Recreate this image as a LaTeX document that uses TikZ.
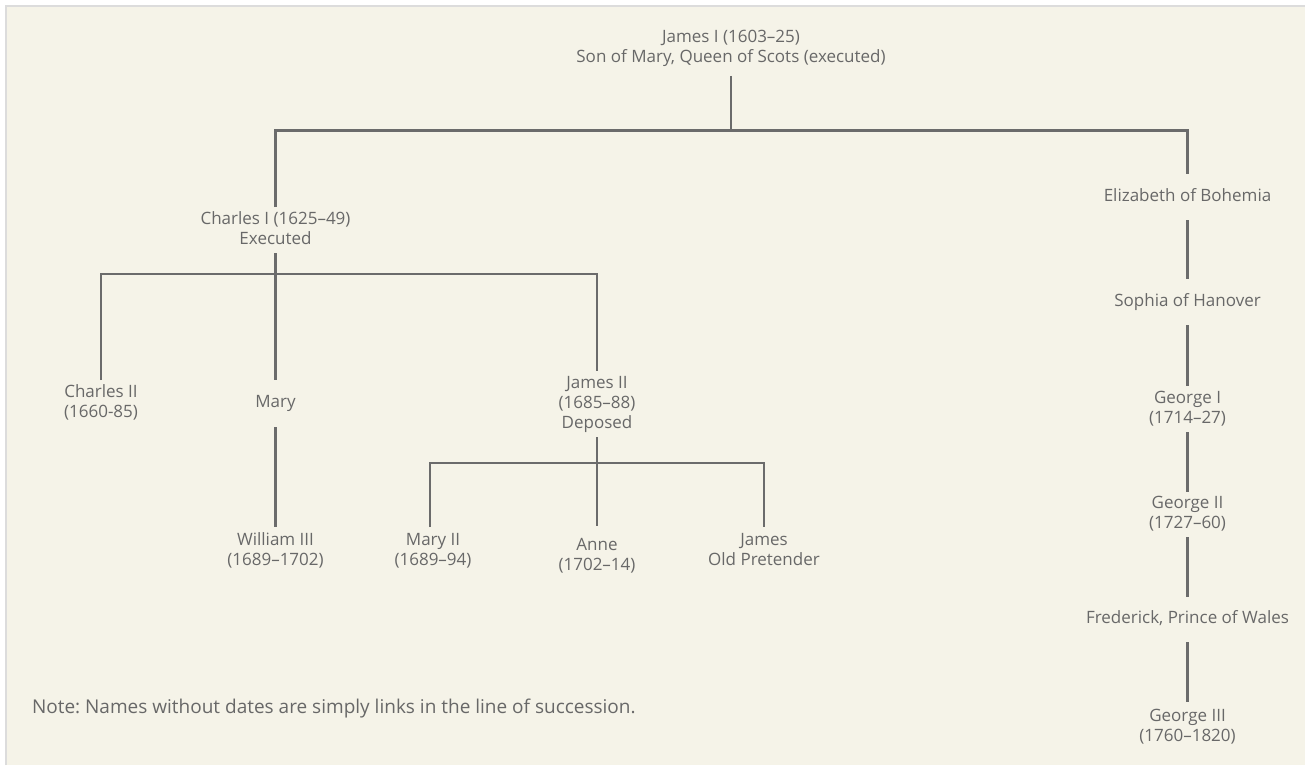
\documentclass[tikz,border=0pt]{standalone}
\usepackage{fontspec}
\setmainfont{Open Sans}
\frenchspacing
\definecolor{bgc}{HTML}{F5F3E8}
\definecolor{brd}{HTML}{DCDCDC}
\definecolor{txt}{HTML}{686868}
\definecolor{lin}{HTML}{6B6B6B}
\newcommand{\famrow}[1]{\strut #1}
\tikzset{
  person/.style={inner sep=0pt, outer sep=0pt, align=center, text=txt,
    font=\fontsize{17}{20}\selectfont, minimum height=46pt},
  notetext/.style={inner sep=0pt, outer sep=0pt, text=txt,
    font=\fontsize{19}{22}\selectfont},
  conn/.style={draw=lin, line width=2.4pt, line join=miter},
}
\begin{document}
\begin{tikzpicture}[x=1pt,y=-1pt]
\useasboundingbox (0,0) rectangle (1305,765);
\fill[white] (0,0) rectangle (1305,765);
\fill[bgc] (6,6) rectangle (1305,765);
\draw[brd, line width=2pt] (6,765) -- (6,6) -- (1305,6);

% nodes
\node[person, minimum height=55pt] (james1) at (731,48.5) {\famrow{James I (1603–25)}\\\famrow{Son of Mary, Queen of Scots (executed)}};
\node[person] (charles1) at (275.5,230) {\famrow{Charles I (1625–49)}\\\famrow{Executed}};
\node[person] (eliz) at (1187.5,197) {\famrow{Elizabeth of Bohemia}};
\node[person] (sophia) at (1187.5,302) {\famrow{Sophia of Hanover}};
\node[person] (george1) at (1187.5,409) {\famrow{George I}\\\famrow{(1714–27)}};
\node[person, minimum height=45pt] (george2) at (1187.5,514.5) {\famrow{George II}\\\famrow{(1727–60)}};
\node[person, minimum height=45pt] (fred) at (1187.5,619.5) {\famrow{Frederick, Prince of Wales}};
\node[person, minimum height=50pt] (george3) at (1187.5,727) {\famrow{George III}\\\famrow{(1760–1820)}};
\node[person, minimum height=47pt] (charles2) at (101,403.5) {\famrow{Charles II}\\\famrow{(1660-85)}};
\node[person, minimum height=47pt] (mary) at (275.5,403.5) {\famrow{Mary}};
\node[person, minimum height=49pt] (william3) at (275.5,551.5) {\famrow{William III}\\\famrow{(1689–1702)}};
\node[person, minimum height=66pt] (james2) at (597,404) {\famrow{James II}\\\famrow{(1685–88)}\\\famrow{Deposed}};
\node[person, minimum height=48pt] (mary2) at (433,551) {\famrow{Mary II}\\\famrow{(1689–94)}};
\node[person, minimum height=61pt] (anne) at (597,556.5) {\famrow{Anne}\\\famrow{(1702–14)}};
\node[person, minimum height=48pt] (jop) at (764,551) {\famrow{James}\\\famrow{Old Pretender}};
\node[notetext, anchor=west] (note) at (32,709.5) {\strut Note: Names without dates are simply links in the line of succession.};

% bars
\coordinate (b1) at (731,130.5);
\coordinate (b2) at (275.5,274);
\coordinate (b3L) at (430,463);
\coordinate (b3R) at (764,463);

% connectors
\draw[conn] (james1.south) -- (b1);
\draw[conn] (charles1.north) |- (b1) -| (eliz.north);
\draw[conn] (charles1.south) -- (mary.north);
\draw[conn] (charles2.north) |- (b2) -| (james2.north);
\draw[conn] (mary.south) -- (william3.north);
\draw[conn] (james2.south) -- (anne.north);
\draw[conn] (b3L |- mary2.north) -- (b3L) -- (b3R) -- (jop.north);
\draw[conn] (eliz) -- (sophia);
\draw[conn] (sophia) -- (george1);
\draw[conn] (george1) -- (george2);
\draw[conn] (george2) -- (fred);
\draw[conn] (fred) -- (george3);
\end{tikzpicture}
\end{document}
